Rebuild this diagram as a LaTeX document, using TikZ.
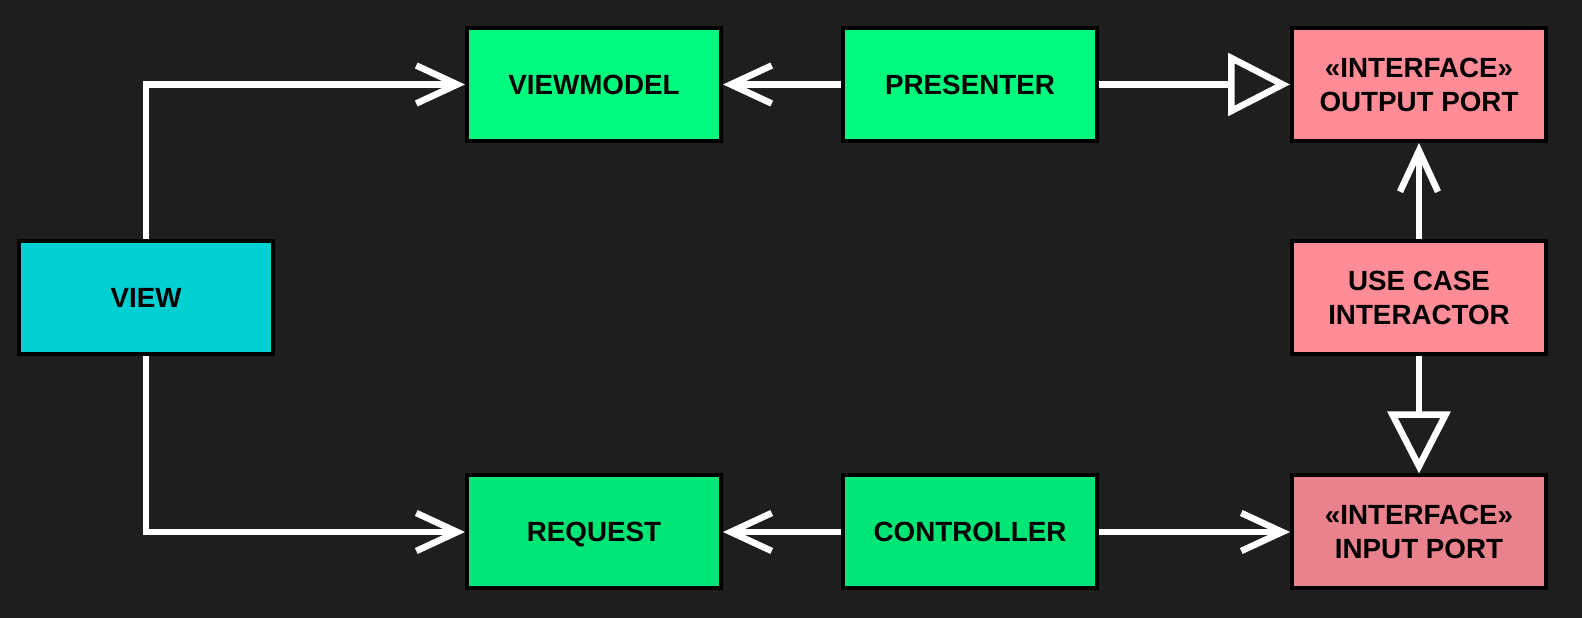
\documentclass[tikz,border=0pt]{standalone}
\usepackage{fontspec}
\setmainfont{Liberation Sans}
\usetikzlibrary{arrows.meta}
\definecolor{bgdark}{HTML}{1E1E1E}
\definecolor{viewcyan}{HTML}{00D0D2}
\definecolor{adaptgreen}{HTML}{00FA7D}
\definecolor{adaptgreenlow}{HTML}{00E676}
\definecolor{corepink}{HTML}{FF8C96}
\definecolor{corepinklow}{HTML}{EA828E}
\begin{document}
\begin{tikzpicture}[
    box/.style={draw=black, line width=0.04cm, minimum width=2.54cm, minimum height=1.13cm,
        align=center, text=black, font=\fontsize{7.9}{9.7}\selectfont\bfseries},
    oneline/.style={box, text depth=0pt},
    link/.style={draw=white, line width=0.065cm},
    uses/.style={link, -{Straight Barb[length=4.1mm,width=3.8mm]}},
    realizes/.style={link, -{Triangle[open,length=6.2mm,width=6.2mm,fill=bgdark]}}
]
    % dark background fixes the size
    \fill[bgdark] (0,0) rectangle (15.82,6.18);
    \useasboundingbox (0,0) rectangle (15.82,6.18);
    % view
    \node[oneline, fill=viewcyan] (view) at (1.46,3.205) {VIEW};
    % top row
    \node[oneline, fill=adaptgreen] (viewmodel) at (5.94,5.335) {VIEWMODEL};
    \node[oneline, fill=adaptgreen] (presenter) at (9.70,5.335) {PRESENTER};
    \node[box, fill=corepink] (outport) at (14.19,5.335) {«INTERFACE»\\OUTPUT PORT};
    % use case
    \node[box, fill=corepink] (interactor) at (14.19,3.205) {USE CASE\\INTERACTOR};
    % bottom row
    \node[oneline, fill=adaptgreenlow] (request) at (5.94,0.86) {REQUEST};
    \node[oneline, fill=adaptgreenlow] (controller) at (9.70,0.86) {CONTROLLER};
    \node[box, fill=corepinklow] (inport) at (14.19,0.86) {«INTERFACE»\\INPUT PORT};
    % view to viewmodel and request
    \draw[uses] (view.north) |- (viewmodel.west);
    \draw[uses] (view.south) |- (request.west);
    % presenter and controller
    \draw[uses] (presenter) -- (viewmodel);
    \draw[realizes] (presenter) -- (outport);
    \draw[uses] (controller) -- (request);
    \draw[uses] (controller) -- (inport);
    % interactor
    \draw[uses] (interactor) -- (outport);
    \draw[realizes] (interactor) -- (inport);
\end{tikzpicture}
\end{document}
